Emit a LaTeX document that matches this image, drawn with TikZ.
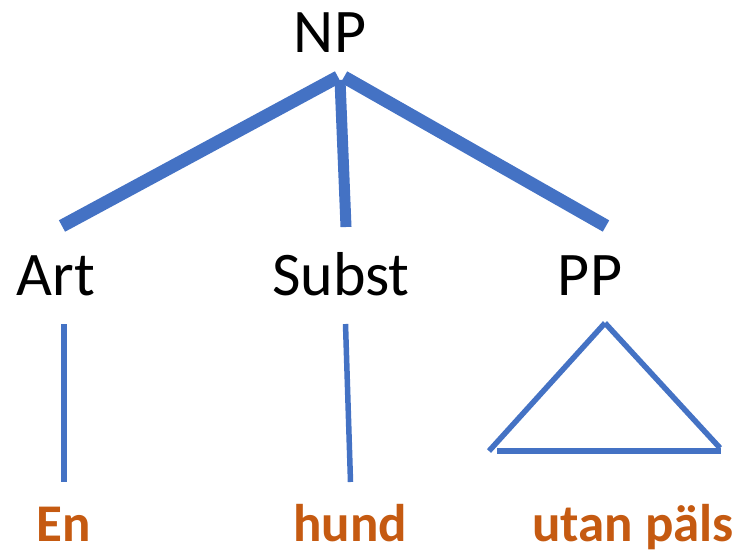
\documentclass[tikz,border=0pt]{standalone}
\usepackage{fontspec}
\setmainfont{Carlito}
\definecolor{tblue}{HTML}{4472C4}
\definecolor{torange}{HTML}{C55A11}
\tikzset{
  cat/.style={font=\fontsize{62}{74}\selectfont, text=black, inner sep=0pt, anchor=base},
  word/.style={font=\fontsize{53}{63}\selectfont\bfseries, text=torange, inner sep=0pt, anchor=base},
  thickedge/.style={draw=tblue, line width=13pt},
  midedge/.style={draw=tblue, line width=11pt},
  thinedge/.style={draw=tblue, line width=5.5pt}
}
\begin{document}
\begin{tikzpicture}[x=1pt,y=-1pt]
\path[use as bounding box] (0,0) rectangle (743,553);
% labels
\node[cat] (np) at (330,53) {NP};
\node[cat] (art) at (56,295) {Art};
\node[cat] (subst) at (341,295) {Subst};
\node[cat] (pp) at (590,295) {PP};
\node[word] (en) at (64,541) {En};
\node[word] (hund) at (350,541) {hund};
\node[word] (utan) at (633,541) {utan päls};
% coordinates for edge ends
\coordinate (apexL) at (338,77);
\coordinate (apexR) at (344,77);
\coordinate (apexM) at (340,80);
\coordinate (artTop) at (62,226);
\coordinate (substTop) at (346,227);
\coordinate (ppTop) at (606,226);
\coordinate (artBot) at (64,324);
\coordinate (enTop) at (64,482);
\coordinate (substBot) at (345.5,324);
\coordinate (hundTop) at (350.5,482);
\coordinate (triTop) at (605,323);
\coordinate (triL) at (489,451);
\coordinate (triR) at (720,448);
\coordinate (baseL) at (497,451);
\coordinate (baseR) at (721,451);
% edges
\draw[thickedge] (apexL) -- (artTop);
\draw[thickedge] (apexR) -- (ppTop);
\draw[midedge] (apexM) -- (substTop);
\draw[thinedge] (artBot) -- (enTop);
\draw[thinedge] (substBot) -- (hundTop);
\draw[thinedge] (triTop) -- (triL);
\draw[thinedge] (triTop) -- (triR);
\draw[thinedge] (baseL) -- (baseR);
\end{tikzpicture}
\end{document}
